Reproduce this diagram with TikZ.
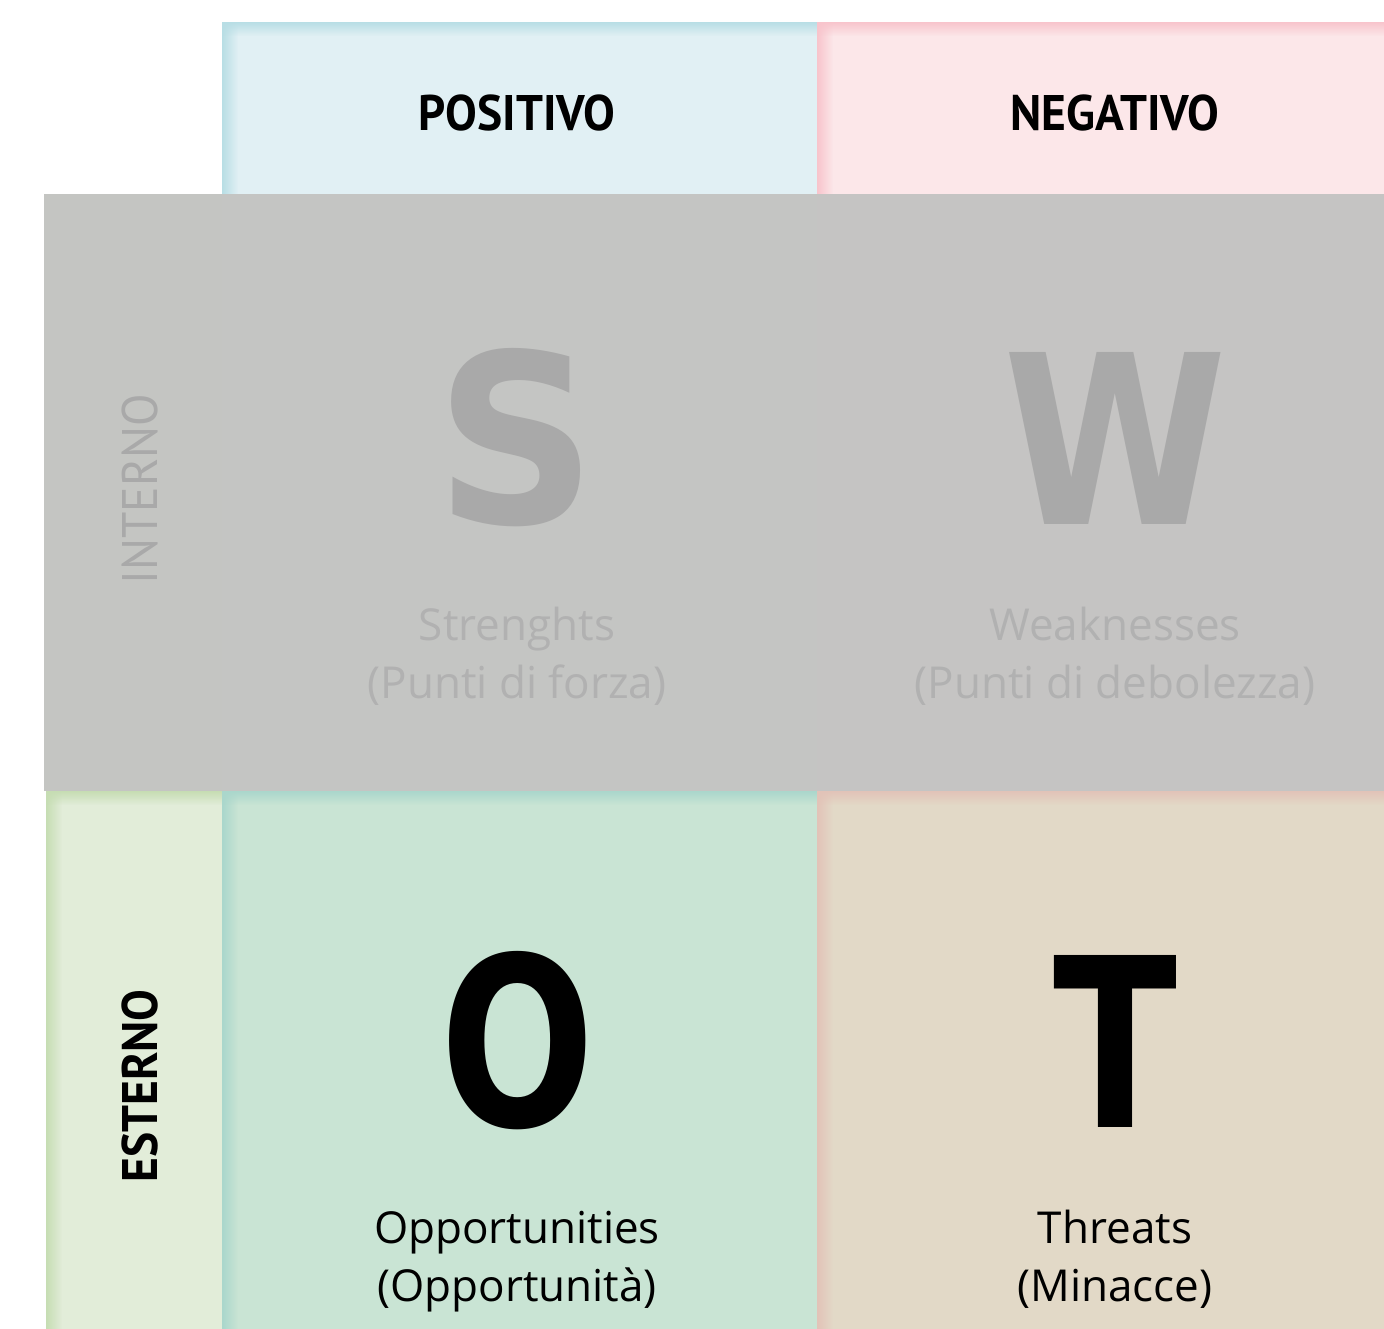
\documentclass[tikz,border=0pt]{standalone}
\usepackage{fontspec}
\usetikzlibrary{fadings}
\setmainfont{Open Sans}
\newfontfamily\headfont[FakeStretch=0.95]{PT Sans}
\newfontfamily\bigfont[FakeStretch=0.77]{DejaVu Sans}
\newfontfamily\bigwfont[FakeStretch=0.86]{DejaVu Sans}
\newfontfamily\bigsfont[FakeStretch=0.95]{DejaVu Sans}
\definecolor{posblue}{HTML}{E1F0F4}
\definecolor{posedge}{HTML}{B8DEE5}
\definecolor{negpink}{HTML}{FCE7E9}
\definecolor{negedge}{HTML}{F8C4CC}
\definecolor{extgreen}{HTML}{E2EDD9}
\definecolor{extedge}{HTML}{C6DDB3}
\definecolor{oppmint}{HTML}{C9E4D4}
\definecolor{oppedge}{HTML}{AAD7CC}
\definecolor{thrbeige}{HTML}{E2D9C7}
\definecolor{thredge}{HTML}{E2C3B8}
\definecolor{bandgrey}{HTML}{C3C3C1}
\definecolor{fadegrey}{HTML}{A9A9A9}
\tikzfading[name=fadeoutright, left color=transparent!0, right color=transparent!100]
\tikzfading[name=fadeoutdown, top color=transparent!0, bottom color=transparent!100]
\tikzset{
  cell/.style={rectangle, inner sep=0pt, outer sep=0pt},
  headtxt/.style={font=\headfont\bfseries\fontsize{50}{50}\selectfont},
  sidetxt/.style={font=\headfont\fontsize{50}{50}\selectfont, rotate=90},
  bigtxt/.style={font=\bigfont\bfseries\fontsize{236}{236}\selectfont, inner sep=0pt},
  captxt/.style={font=\fontsize{44}{44}\selectfont, anchor=base, inner sep=0pt}
}
\newcommand{\edgeshade}[2]{
  \fill[#2, path fading=fadeoutright] (#1.north west) rectangle ([xshift=16pt]#1.south west);
  \fill[#2, path fading=fadeoutdown] (#1.north west) rectangle ([yshift=-14pt]#1.north east);
}
\begin{document}
\begin{tikzpicture}[x=1pt,y=-1pt]
  \useasboundingbox[fill=white] (0,0) rectangle (1384,1329);
  \node[cell, fill=posblue, minimum width=595pt, minimum height=172pt] (pos) at (519.5,108) {};
  \node[cell, fill=negpink, minimum width=567pt, minimum height=172pt] (neg) at (1100.5,108) {};
  \node[cell, fill=extgreen, minimum width=176pt, minimum height=538pt] (est) at (134,1060) {};
  \node[cell, fill=oppmint, minimum width=595pt, minimum height=538pt] (opp) at (519.5,1060) {};
  \node[cell, fill=thrbeige, minimum width=567pt, minimum height=538pt] (thr) at (1100.5,1060) {};
  \node[cell, fill=extgreen, minimum width=178pt, minimum height=597pt] (int) at (133,492.5) {};
  \node[cell, fill=posblue, minimum width=595pt, minimum height=597pt] (str) at (519.5,492.5) {};
  \node[cell, fill=negpink, minimum width=567pt, minimum height=597pt] (wea) at (1100.5,492.5) {};
  \edgeshade{pos}{posedge}
  \edgeshade{neg}{negedge}
  \edgeshade{est}{extedge}
  \edgeshade{opp}{oppedge}
  \edgeshade{thr}{thredge}
  \node[cell, fill=bandgrey, fill opacity=0.95, minimum width=1340pt, minimum height=597pt] (band) at (714,492.5) {};
  \node[headtxt] (postxt) at (517,113) {POSITIVO};
  \node[headtxt] (negtxt) at (1115,113) {NEGATIVO};
  \node[sidetxt, text=fadegrey] (inttxt) at (140,489) {INTERNO};
  \node[sidetxt, font=\headfont\bfseries\fontsize{50}{50}\selectfont] (esttxt) at (140,1086) {ESTERNO};
  \node[bigtxt, font=\bigsfont\bfseries\fontsize{236}{236}\selectfont, text=fadegrey] (s) at (516,438) {S};
  \node[bigtxt, font=\bigwfont\bfseries\fontsize{236}{236}\selectfont, text=fadegrey] (w) at (1115,438) {W};
  \node[bigtxt] (o) at (518,1041) {O};
  \node[bigtxt] (t) at (1115,1041) {T};
  \node[captxt, text=fadegrey!90!white] (s1) at (517,640) {Strenghts};
  \node[captxt, text=fadegrey!90!white] (s2) at (517,698) {(Punti di forza)};
  \node[captxt, text=fadegrey!90!white] (w1) at (1115,640) {Weaknesses};
  \node[captxt, text=fadegrey!90!white] (w2) at (1115,698) {(Punti di debolezza)};
  \node[captxt] (o1) at (517,1243) {Opportunities};
  \node[captxt] (o2) at (517,1301) {(Opportunità)};
  \node[captxt] (t1) at (1115,1243) {Threats};
  \node[captxt] (t2) at (1115,1301) {(Minacce)};
\end{tikzpicture}
\end{document}
